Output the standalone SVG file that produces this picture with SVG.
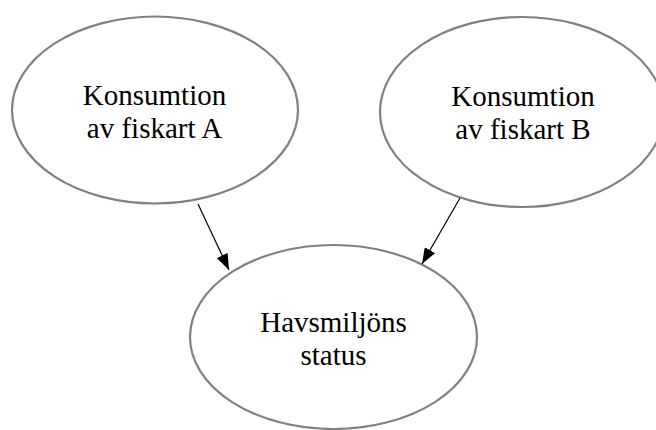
<svg xmlns="http://www.w3.org/2000/svg" width="656" height="430" viewBox="0 0 656 430">
  <defs>
    <style>
      .node ellipse { fill: #ffffff; stroke: #808080; stroke-width: 2.2; }
      .node text { font-family: "Liberation Serif", "Times New Roman", serif; font-size: 29px; fill: #000000; text-anchor: middle; }
      .edge { stroke: #000000; stroke-width: 1.2; fill: none; marker-end: url(#arrow); }
    </style>
    <marker id="arrow" viewBox="0 0 16 12" refX="16" refY="6" markerWidth="16" markerHeight="12" markerUnits="userSpaceOnUse" orient="auto">
      <path d="M0,0 L16,6 L0,12 z" fill="#000000"/>
    </marker>
  </defs>
  <rect width="656" height="430" fill="#ffffff"/>
  <g id="nodeA" class="node">
    <ellipse cx="155" cy="110" rx="143" ry="93.5"/>
    <text x="154.5" y="105">Konsumtion</text>
    <text x="154.5" y="138">av fiskart A</text>
  </g>
  <g id="nodeB" class="node">
    <ellipse cx="522" cy="112" rx="142" ry="95"/>
    <text x="523" y="106">Konsumtion</text>
    <text x="523" y="139">av fiskart B</text>
  </g>
  <g id="nodeC" class="node">
    <ellipse cx="333.5" cy="337" rx="143.5" ry="92"/>
    <text x="333.5" y="332">Havsmiljöns</text>
    <text x="333.5" y="365">status</text>
  </g>
  <g id="connectors">
    <line class="edge" x1="198" y1="204" x2="229" y2="270"/>
    <line class="edge" x1="460" y1="198" x2="422" y2="264"/>
  </g>
</svg>
